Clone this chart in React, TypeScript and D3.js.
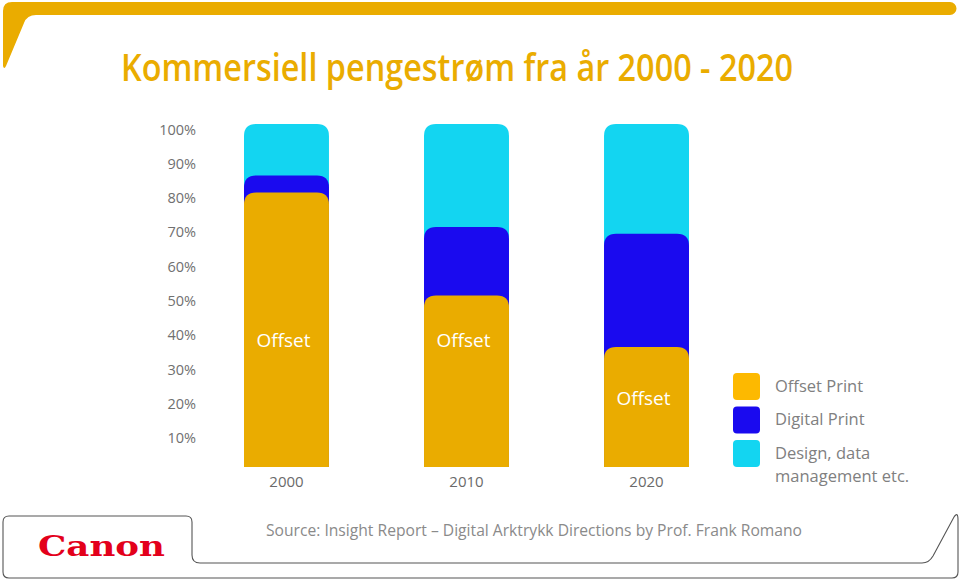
import React from "react";
import * as d3 from "d3";

const years = ["2000", "2010", "2020"];
const offsetPrint = [80, 50, 35];
const digitalPrint = [5, 20, 33];
const designData = [15, 30, 32];
const yTicks = [10, 20, 30, 40, 50, 60, 70, 80, 90, 100];
const seriesNames = ["Offset Print", "Digital Print", "Design, data|management etc."];
const barLabel = "Offset";
const titleText = "Kommersiell pengestrøm fra år 2000 - 2020";
const sourceText = "Source: Insight Report \u2013 Digital Arktrykk Directions by Prof. Frank Romano";

const GOLD = "#EAAC00";
const LEGEND_GOLD = "#FDB900";
const BLUE = "#1A0AEF";
const CYAN = "#13D5F1";
const FONT = "'Open Sans', 'Noto Sans', sans-serif";

function topRounded(x: number, y: number, w: number, h: number, r: number) {
  const rr = Math.min(r, h, w / 2);
  return `M${x},${y + h} L${x},${y + rr} Q${x},${y} ${x + rr},${y} L${x + w - rr},${y} Q${x + w},${y} ${x + w},${y + rr} L${x + w},${y + h} Z`;
}

export default function App() {
  const W = 960, H = 581;
  const y = d3.scaleLinear().domain([0, 100]).range([467, 124]);
  const x = d3.scaleBand().domain(years).range([244, 689]).paddingInner(0.528).paddingOuter(0);
  const bw = x.bandwidth();

  const stacks = years.map((yr, i) => {
    const o = offsetPrint[i];
    const d = o + digitalPrint[i];
    const c = d + designData[i];
    return { yr, o, d, c };
  });

  const legendColors = [LEGEND_GOLD, BLUE, CYAN];

  return (
    <svg width={W} height={H} style={{ display: "block", position: "absolute", left: 0, top: 0 }}>
      <rect width={W} height={H} fill="#fff" />
      {/* top decoration */}
      <path
        d="M3,66 L3,11 Q3,2 12,2 L950,2 A6.5,6.5 0 0 1 950,15 L36,15 Q27,15 24,23 L6,66 Q4,70 3,66 Z"
        fill={GOLD}
      />
      <text x={121} y={81} fill={GOLD} fontFamily={FONT} fontSize={37} fontWeight={600}
        textLength={672} lengthAdjust="spacingAndGlyphs">{titleText}</text>

      {/* y axis labels */}
      {yTicks.map((t) => (
        <text key={t} x={196} y={y(t) + 5} textAnchor="end" dominantBaseline="central"
          fill="#707070" fontFamily={FONT} fontSize={14.5}>{t}%</text>
      ))}

      {/* bars */}
      {stacks.map((s) => {
        const bx = x(s.yr)!;
        return (
          <g key={s.yr}>
            <path d={topRounded(bx, y(s.c), bw, y(0) - y(s.c), 12)} fill={CYAN} />
            <path d={topRounded(bx, y(s.d), bw, y(0) - y(s.d), 12)} fill={BLUE} />
            <path d={topRounded(bx, y(s.o), bw, y(0) - y(s.o), 12)} fill={GOLD} />
            <text x={bx + bw / 2 - 3} y={s.o > 40 ? y(37) : y(s.o) + 51} textAnchor="middle"
              dominantBaseline="central" fill="#fff" fontFamily={FONT} fontSize={19}>{barLabel}</text>
            <text x={bx + bw / 2} y={481} textAnchor="middle" dominantBaseline="central"
              fill="#6a6a6a" fontFamily={FONT} fontSize={15}>{s.yr}</text>
          </g>
        );
      })}

      {/* legend */}
      {seriesNames.map((n, i) => {
        const top = 373 + i * 33.5;
        const lines = n.split("|");
        return (
          <g key={n}>
            <rect x={733} y={top} width={27} height={27} rx={4} fill={legendColors[i]} />
            {lines.map((ln, j) => (
              <text key={j} x={775} y={top + 12 + j * 23} dominantBaseline="central"
                fill="#808080" fontFamily={FONT} fontSize={16.5}>{ln}</text>
            ))}
          </g>
        );
      })}

      {/* footer frame */}
      <path
        d="M192,522 L192,555 Q192,563 200,563 L922,563 Q929,563 933,556 L954,517 Q958,511 958,520 L958,572 Q958,578 952,578 L9,578 Q3,578 3,572 L3,522 Q3,516 9,516 L186,516 Q192,516 192,522"
        fill="none" stroke="#555" strokeWidth={1.1}
      />
      <text x={38} y={556} fill="#E3001B" fontFamily="'DejaVu Serif', serif" fontWeight="bold"
        fontSize={27} textLength={127} lengthAdjust="spacingAndGlyphs">Canon</text>
      <text x={266} y={530} dominantBaseline="central" fill="#8a8a8a" fontFamily={FONT} fontSize={16}
        textLength={536} lengthAdjust="spacingAndGlyphs">{sourceText}</text>
    </svg>
  );
}
